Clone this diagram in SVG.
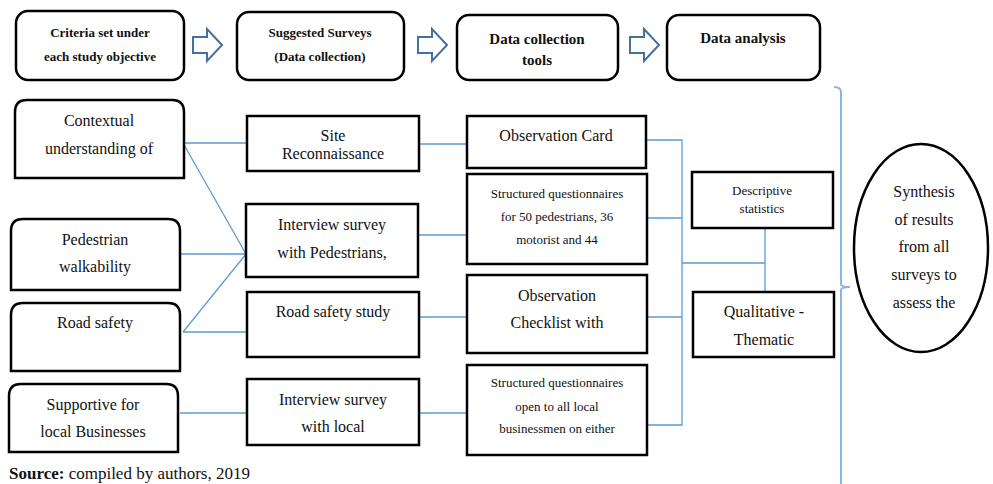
<svg xmlns="http://www.w3.org/2000/svg" width="993" height="484" viewBox="0 0 993 484">
<style>
.box{fill:#fff;stroke:#000;stroke-width:2.5}
.hb{fill:#fff;stroke:#000;stroke-width:2.5}
.arr{fill:#fff;stroke:#41719C;stroke-width:2}
text{font-family:'Liberation Serif','DejaVu Serif',serif;font-size:16px;fill:#111;text-anchor:middle}
.s{font-size:13px}
.h{font-weight:bold;font-size:13px}
.h2{font-weight:bold;font-size:15px}
.c{fill:none;stroke:#5B9BD5;stroke-width:1.3}
.br{fill:none;stroke:#8DB3E2;stroke-width:2}
</style>
<defs>
<path id="harrow" d="M0,8 H14 V0 L29,16 L14,32 V24 H0 Z"/>
</defs>
<rect width="993" height="484" fill="#fff"/>

<g font-family="Liberation Serif, serif">
<g id="header1"><rect class="hb" x="16" y="11" width="168" height="69" rx="12"/>
<text class="h" x="100" y="37">Criteria set under</text><text class="h" x="100" y="61">each study objective</text></g>
<g id="header2"><rect class="hb" x="237" y="12" width="167" height="68" rx="12"/>
<text class="h" x="320" y="37">Suggested Surveys</text><text class="h" x="320" y="61">(Data collection)</text></g>
<g id="header3"><rect class="hb" x="457" y="15" width="161" height="65" rx="12"/>
<text class="h2" x="537" y="44">Data collection</text><text class="h2" x="537" y="65">tools</text></g>
<g id="header4"><rect class="hb" x="667" y="15" width="153" height="65" rx="12"/>
<text class="h2" x="743" y="43">Data analysis</text></g>

<g id="arrows">
<use href="#harrow" class="arr" x="193" y="29"/>
<use href="#harrow" class="arr" x="418" y="29"/>
<use href="#harrow" class="arr" x="630" y="29"/>
</g>

<g id="connectors">
<path class="c" d="M183,143 H247 M183,143 L246,254 M180,254 H246 M183,332 L246,254 M183,332 H247 M180,413 H247"/>
<path class="c" d="M419,144 H467 M418,235 H467 M419,317 H467 M419,413 H467"/>
<path class="c" d="M646,140 H682 V425 H647 M647,218 H682 M647,317 H682 M682,263 H765 M765,228 V292"/>
<path class="br" d="M834,87 Q841,87 841,92 V284 Q841,287 850,287 Q841,287 841,290 V484"/>
</g>

<g id="contextual"><path class="box" d="M15,178 V112 Q15,100 27,100 H172 Q184,100 184,112 V178 Z"/>
<text x="99" y="126">Contextual</text><text x="99" y="154">understanding of</text></g>
<g id="pedestrian"><path class="box" d="M11,290 V231 Q11,219 23,219 H168 Q180,219 180,231 V290 Z"/>
<text x="95" y="245">Pedestrian</text><text x="95" y="272">walkability</text></g>
<g id="roadsafety"><path class="box" d="M11,371 V315 Q11,303 23,303 H168 Q180,303 180,315 V371 Z"/>
<text x="95" y="328">Road safety</text></g>
<g id="supportive"><path class="box" d="M9,452 V396 Q9,384 21,384 H166 Q178,384 178,396 V452 Z"/>
<text x="93" y="410">Supportive for</text><text x="93" y="437">local Businesses</text></g>

<g id="site"><rect class="box" x="247" y="116" width="172" height="55"/>
<text x="333" y="141">Site</text><text x="333" y="159">Reconnaissance</text></g>
<g id="interviewped"><rect class="box" x="246" y="204" width="172" height="73"/>
<text x="332" y="230">Interview survey</text><text x="332" y="258">with Pedestrians,</text></g>
<g id="roadstudy"><rect class="box" x="247" y="292" width="172" height="65"/>
<text x="333" y="317">Road safety study</text></g>
<g id="interviewlocal"><rect class="box" x="247" y="379" width="172" height="66"/>
<text x="333" y="405">Interview survey</text><text x="333" y="432">with local</text></g>

<g id="obscard"><rect class="box" x="467" y="116" width="179" height="52"/>
<text x="556" y="141">Observation Card</text></g>
<g id="quest1"><rect class="box" x="467" y="174" width="180" height="90"/>
<text class="s" x="557" y="198">Structured questionnaires</text><text class="s" x="557" y="221">for 50 pedestrians, 36</text><text class="s" x="557" y="244">motorist and 44</text></g>
<g id="checklist"><rect class="box" x="467" y="275" width="180" height="78"/>
<text x="557" y="301">Observation</text><text x="557" y="328">Checklist with</text></g>
<g id="quest2"><rect class="box" x="467" y="365" width="180" height="90"/>
<text class="s" x="557" y="387">Structured questionnaires</text><text class="s" x="557" y="411">open to all local</text><text class="s" x="557" y="433">businessmen on either</text></g>

<g id="descriptive"><rect class="box" x="692" y="172" width="141" height="56"/>
<text class="s" x="762" y="195">Descriptive</text><text class="s" x="762" y="213">statistics</text></g>
<g id="qualitative"><rect class="box" x="693" y="292" width="141" height="65"/>
<text x="764" y="317">Qualitative -</text><text x="764" y="345">Thematic</text></g>

<g id="synthesis"><ellipse class="box" cx="921" cy="248" rx="67" ry="104"/>
<text x="924" y="197">Synthesis</text><text x="924" y="225">of results</text><text x="924" y="252">from all</text><text x="924" y="280">surveys to</text><text x="924" y="308">assess the</text></g>

<text x="9" y="479" style="text-anchor:start;font-size:17px"><tspan font-weight="bold">Source:</tspan> compiled by authors, 2019</text>
</g>
</svg>
